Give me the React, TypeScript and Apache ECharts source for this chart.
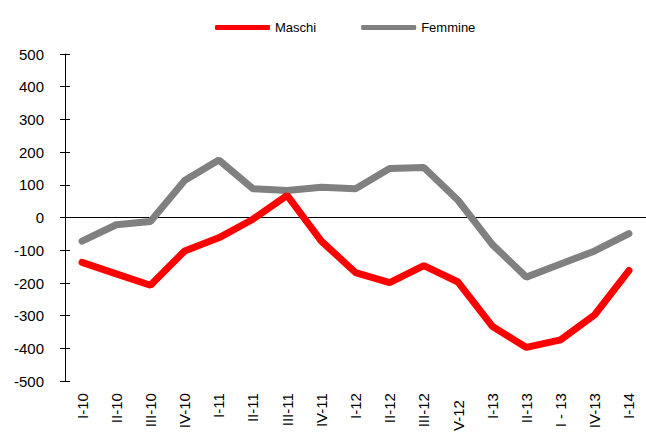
import React, { useEffect, useRef } from "react";
import * as echarts from "echarts";

const categories = [
  "I-10", "II-10", "III-10", "IV-10",
  "I-11", "II-11", "III-11", "IV-11",
  "I-12", "II-12", "III-12", "V-12",
  "I-13", "II-13", "I - 13", "IV-13",
  "I-14",
];

const maschi = [-137, -172, -207, -102, -62, -5, 68, -72, -168, -199, -147, -197, -332, -397, -374, -297, -162];
const femmine = [-72, -22, -12, 113, 176, 88, 83, 93, 88, 150, 153, 53, -82, -182, -142, -102, -49];

const yMin = -500;
const yMax = 500;
const yStep = 100;

const FONT = "'Liberation Sans', Arial, sans-serif";

export default function App() {
  const ref = useRef<HTMLDivElement>(null);

  useEffect(() => {
    if (!ref.current) return;
    const chart = echarts.init(ref.current, undefined, { renderer: "svg" });
    chart.setOption({
      animation: false,
      backgroundColor: "#ffffff",
      textStyle: { fontFamily: FONT },
      legend: {
        left: 210,
        top: 16,
        itemWidth: 55,
        itemHeight: 5,
        itemGap: 45,
        icon: "roundRect",
        textStyle: { fontSize: 13, color: "#000", fontFamily: FONT },
        data: ["Maschi", "Femmine"],
      },
      grid: { left: 65, right: -3, top: 54, bottom: 46, containLabel: false },
      xAxis: {
        type: "category",
        data: categories.map((c) =>
          c === "V-12"
            ? { value: c, textStyle: { padding: [0, 7, 0, 0] } }
            : c
        ),
        boundaryGap: true,
        axisLine: { show: false, onZero: false },
        axisTick: { show: false },
        axisLabel: {
          rotate: 90,
          interval: 0,
          margin: 12,
          fontSize: 15,
          color: "#000",
          fontFamily: FONT,
        },
        splitLine: { show: false },
      },
      yAxis: [
        {
          type: "value",
          min: yMin,
          max: yMax,
          interval: yStep,
          axisLine: { show: true, lineStyle: { color: "#000", width: 1 } },
          axisTick: { show: true, inside: false, length: 5, lineStyle: { color: "#000" } },
          axisLabel: { fontSize: 15, color: "#000", margin: 21, fontFamily: FONT },
          splitLine: { show: false },
        },
        {
          type: "value",
          position: "left",
          min: yMin,
          max: yMax,
          interval: yStep,
          axisLine: { show: false },
          axisTick: { show: true, inside: true, length: 5, lineStyle: { color: "#000" } },
          axisLabel: { show: false },
          splitLine: { show: false },
        },
      ],
      series: [
        {
          name: "Femmine",
          type: "line",
          data: femmine,
          symbol: "none",
          color: "#808080",
          lineStyle: { width: 7, color: "#808080", cap: "round" },
          z: 2,
          markLine: {
            silent: true,
            symbol: "none",
            label: { show: false },
            lineStyle: { color: "#000", width: 1.2, type: "solid" },
            data: [{ yAxis: 0 }],
            z: 1,
          },
        },
        {
          name: "Maschi",
          type: "line",
          data: maschi,
          symbol: "none",
          color: "#ff0000",
          lineStyle: { width: 7, color: "#ff0000", cap: "round" },
          z: 3,
        },
      ],
    });
    return () => chart.dispose();
  }, []);

  return (
    <div
      ref={ref}
      style={{ position: "fixed", left: 0, top: 0, width: 646, height: 434 }}
    />
  );
}
